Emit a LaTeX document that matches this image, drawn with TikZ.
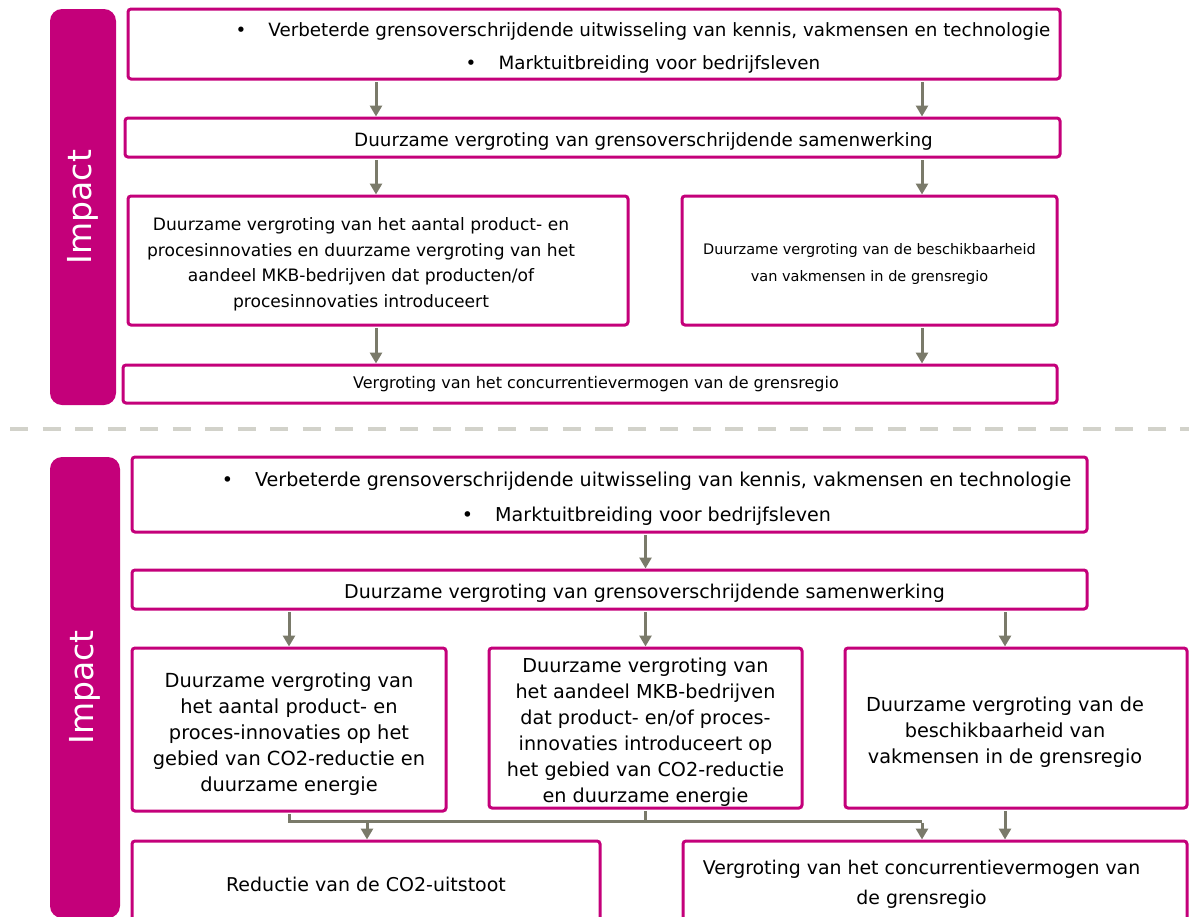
\documentclass[tikz,border=0pt]{standalone}
\usepackage{fontspec}
\setmainfont{DejaVu Sans}
\usetikzlibrary{arrows.meta}

\definecolor{impactpink}{RGB}{196,0,122}
\definecolor{flowgray}{RGB}{122,122,106}
\definecolor{splitgray}{RGB}{210,210,202}

\newcommand{\boxlift}{\rule{0pt}{1.2em}}

\tikzset{
    box/.style = {draw = impactpink, line width = 3pt, rounded corners = 3pt, fill = white, align = center, inner sep = 0pt},
    bar/.style = {fill = impactpink, rounded corners = 12pt, rotate = 90, text = white, font = \fontsize{33}{33}\selectfont},
    flow/.style = {draw = flowgray, line width = 3pt, shorten <= 1.5pt, -{Triangle[width = 12pt, length = 11pt]}},
    link/.style = {draw = flowgray, line width = 3pt, shorten <= 1.5pt}
}

\begin{document}
\begin{tikzpicture}[
    x = 1pt,
    y = -1pt,
    node distance = 30pt
]
\useasboundingbox (0,0) rectangle (1189,916);

% upper chain
\node[bar, minimum width = 396pt, minimum height = 66pt] (imp1) at (83,207) {Impact};
\node[box, minimum width = 932pt, minimum height = 70pt, font = \fontsize{18.3}{33}\selectfont] (out1) at (594,44) {\boxlift\hspace*{98pt}\textbullet\hspace{22pt}Verbeterde grensoverschrijdende uitwisseling van kennis, vakmensen en technologie\\ \hspace*{98pt}\textbullet\hspace{22pt}Marktuitbreiding voor bedrijfsleven};
\node[box, minimum width = 935pt, minimum height = 39pt, font = \fontsize{18.3}{22}\selectfont] (coop1) [below of = out1, xshift = -1.5pt, yshift = -63.5pt] {\boxlift\hspace*{102pt}Duurzame vergroting van grensoverschrijdende samenwerking};
\node[box, minimum width = 500pt, minimum height = 129pt, font = \fontsize{17.1}{25.5}\selectfont] (innov1) [below of = coop1, xshift = -214.5pt, yshift = -93pt] {\boxlift\hspace*{-34pt}Duurzame vergroting van het aantal product- en\\ \hspace*{-34pt}procesinnovaties en duurzame vergroting van het\\ \hspace*{-34pt}aandeel MKB-bedrijven dat producten/of\\ \hspace*{-34pt}procesinnovaties introduceert};
\node[box, minimum width = 375pt, minimum height = 129pt, font = \fontsize{14.5}{27}\selectfont] (skill1) [below of = coop1, xshift = 277pt, yshift = -93pt] {\boxlift Duurzame vergroting van de beschikbaarheid\\ van vakmensen in de grensregio};
\node[box, minimum width = 934pt, minimum height = 38pt, font = \fontsize{16}{20}\selectfont] (comp1) [below of = innov1, xshift = 212pt, yshift = -93.5pt] {\hspace*{12pt}Vergroting van het concurrentievermogen van de grensregio};

% divider
\draw[splitgray, line width = 4pt, dash pattern = on 18pt off 14.5pt] (10,429) -- (1189,429);

% lower chain
\node[bar, minimum width = 461pt, minimum height = 70pt] (imp2) at (85,687.5) {Impact};
\node[box, minimum width = 955pt, minimum height = 75pt, font = \fontsize{19.1}{35}\selectfont] (out2) at (609.5,494.5) {\boxlift\hspace*{74pt}\textbullet\hspace{22pt}Verbeterde grensoverschrijdende uitwisseling van kennis, vakmensen en technologie\\ \hspace*{74pt}\textbullet\hspace{22pt}Marktuitbreiding voor bedrijfsleven};
\node[box, minimum width = 955pt, minimum height = 39pt, font = \fontsize{19}{22}\selectfont] (coop2) [below of = out2, yshift = -65pt] {\boxlift\hspace*{70pt}Duurzame vergroting van grensoverschrijdende samenwerking};
\node[box, minimum width = 314pt, minimum height = 163pt, font = \fontsize{19.4}{26}\selectfont] (innov2) [below of = coop2, xshift = -320.5pt, yshift = -110pt] {\boxlift Duurzame vergroting van\\ het aantal product- en\\ proces-innovaties op het\\ gebied van CO2-reductie en\\ duurzame energie};
\node[box, minimum width = 313pt, minimum height = 160pt, font = \fontsize{19.2}{26}\selectfont] (share2) [below of = coop2, xshift = 36pt, yshift = -108.5pt] {\boxlift Duurzame vergroting van\\ het aandeel MKB-bedrijven\\ dat product- en/of proces-\\ innovaties introduceert op\\ het gebied van CO2-reductie\\ en duurzame energie};
\node[box, minimum width = 342pt, minimum height = 160pt, font = \fontsize{19.3}{26}\selectfont] (skill2) [below of = coop2, xshift = 406.5pt, yshift = -108.5pt] {\boxlift\hspace*{-22pt}Duurzame vergroting van de\\ \hspace*{-22pt}beschikbaarheid van\\ \hspace*{-22pt}vakmensen in de grensregio};
\node[box, minimum width = 468pt, minimum height = 86pt, font = \fontsize{19}{26}\selectfont] (co2) [below of = innov2, xshift = 77pt, yshift = -124.5pt] {Reductie van de CO2-uitstoot};
\node[box, minimum width = 504pt, minimum height = 86pt, font = \fontsize{18.9}{30}\selectfont] (comp2) [below of = skill2, xshift = -81pt, yshift = -126pt] {\hspace*{-27pt}Vergroting van het concurrentievermogen van\\ \hspace*{-27pt}de grensregio};

\coordinate (colL) at (376,0);
\coordinate (colR) at (922,0);
\coordinate (colE) at (1005,0);
\coordinate (joinL) at (367,821);
\coordinate (joinR) at (922,821);

% arrows
\draw[flow] (out1.south -| colL) -- (coop1.north -| colL);
\draw[flow] (out1.south -| colR) -- (coop1.north -| colR);
\draw[flow] (coop1.south -| colL) -- (innov1.north -| colL);
\draw[flow] (coop1.south -| colR) -- (skill1.north -| colR);
\draw[flow] (innov1.south -| colL) -- (comp1.north -| colL);
\draw[flow] (skill1.south -| colR) -- (comp1.north -| colR);

\draw[flow] (out2.south -| share2.north) -- (coop2.north -| share2.north);
\draw[flow] (coop2.south -| innov2.north) -- (innov2.north);
\draw[flow] (coop2.south -| share2.north) -- (share2.north);
\draw[flow] (coop2.south -| colE) -- (skill2.north -| colE);
\draw[link] (innov2.south) |- (joinR);
\draw[link] (share2.south) -- (share2.south |- joinR);
\draw[flow] (joinL) -- (co2.north -| joinL);
\draw[flow] (joinR) -- (comp2.north -| joinR);
\draw[flow] (skill2.south -| colE) -- (comp2.north -| colE);

\end{tikzpicture}
\end{document}
